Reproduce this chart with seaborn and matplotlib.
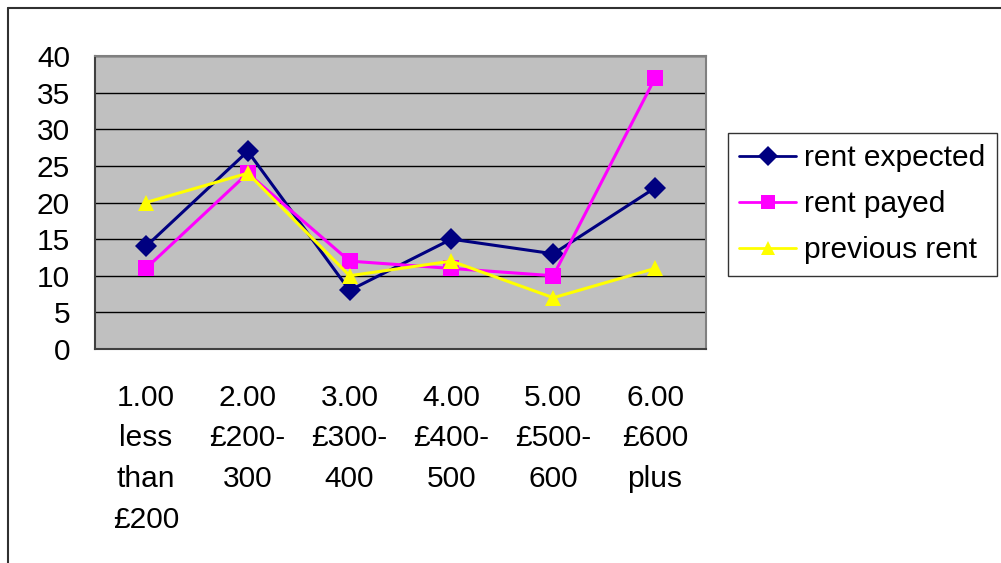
import matplotlib
matplotlib.use("Agg")
import matplotlib.pyplot as plt
from matplotlib.lines import Line2D
import seaborn as sns
import pandas as pd

categories = ["1.00\nless\nthan\n£200", "2.00\n£200-\n300", "3.00\n£300-\n400",
              "4.00\n£400-\n500", "5.00\n£500-\n600", "6.00\n£600\nplus"]
rent_expected = [14, 27, 8, 15, 13, 22]
rent_payed = [11, 24, 12, 11, 10, 37]
previous_rent = [20, 24, 10, 12, 7, 11]
series_names = ["rent expected", "rent payed", "previous rent"]
y_ticks = [0, 5, 10, 15, 20, 25, 30, 35, 40]

rows = []
for name, vals in zip(series_names, [rent_expected, rent_payed, previous_rent]):
    for i, v in enumerate(vals):
        rows.append({"pos": i, "value": v, "series": name})
df = pd.DataFrame(rows)

sns.set_theme(style="white")
plt.rcParams["font.family"] = ["Liberation Sans", "DejaVu Sans"]
plt.rcParams["text.color"] = "black"
plt.rcParams["xtick.color"] = "black"
plt.rcParams["ytick.color"] = "black"
FS = 21.5

fig = plt.figure(figsize=(10.01, 5.63), dpi=100)
ax = fig.add_axes([0.0949, 0.3801, 0.6104, 0.5204])
ax.set_facecolor("#C0C0C0")

palette = {"rent expected": "#000080", "rent payed": "#FF00FF", "previous rent": "#FFFF00"}
markers = {"rent expected": "D", "rent payed": "s", "previous rent": "^"}
sns.lineplot(data=df, x="pos", y="value", hue="series", style="series",
             palette=palette, markers=markers, dashes=False, ax=ax,
             linewidth=2.2, markersize=11.5, markeredgewidth=0, legend=False, zorder=3)

ax.set_xlim(-0.5, 5.5)
ax.set_ylim(0, 40)
ax.set_yticks(y_ticks)
ax.set_yticklabels([str(t) for t in y_ticks], fontsize=FS, color="black")
ax.yaxis.grid(True, color="black", linewidth=1)
ax.set_axisbelow(True)
ax.set_xticks([i - 0.5 for i in range(7)])
ax.set_xticklabels([])
ax.set_xticks(range(6), minor=True)
ax.set_xticklabels(categories, minor=True, fontsize=FS, linespacing=1.58,
                   ha="center", va="top", color="black")
ax.tick_params(axis="x", which="minor", length=0, pad=25)
ax.tick_params(axis="x", which="major", length=8, width=1, color="black", direction="out")
ax.tick_params(axis="y", length=8, width=1, color="black", direction="out", pad=10)
ax.set_xlabel("")
ax.set_ylabel("")

for side in ["top", "right"]:
    ax.spines[side].set_color("#808080")
    ax.spines[side].set_linewidth(1.5)
ax.spines["left"].set_color("#404040")
ax.spines["left"].set_linewidth(1.5)
ax.spines["bottom"].set_color("#404040")
ax.spines["bottom"].set_linewidth(1.5)

handles = [Line2D([0], [0], color=palette[n], marker=markers[n], linewidth=2,
                  markersize=10, markeredgewidth=0) for n in series_names]
leg = fig.legend(handles, series_names, loc="upper left",
                 bbox_to_anchor=(728 / 1001, 1 - 133 / 563), fontsize=FS,
                 frameon=True, fancybox=False, borderpad=0.38, labelspacing=0.6,
                 handlelength=1.9, handletextpad=0.27, borderaxespad=0)
leg.get_frame().set_edgecolor("black")
leg.get_frame().set_linewidth(1)
for t in leg.get_texts():
    t.set_color("black")

# outer chart border (top and left edges)
fig.add_artist(Line2D([8 / 1001, 1.0], [1 - 8 / 563, 1 - 8 / 563],
                      transform=fig.transFigure, color="#303030", linewidth=1.5))
fig.add_artist(Line2D([8 / 1001, 8 / 1001], [0, 1 - 8 / 563],
                      transform=fig.transFigure, color="#303030", linewidth=1.5))

fig.savefig("out.png", dpi=100)
